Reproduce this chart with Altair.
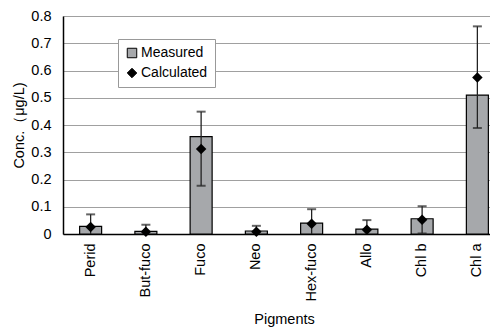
import altair as alt
import pandas as pd

pigments = ["Perid", "But-fuco", "Fuco", "Neo", "Hex-fuco", "Allo", "Chl b", "Chl a"]
measured = [0.028, 0.010, 0.357, 0.011, 0.040, 0.018, 0.056, 0.510]
calculated = [0.026, 0.008, 0.312, 0.008, 0.038, 0.016, 0.052, 0.574]
err_high = [0.072, 0.034, 0.449, 0.030, 0.091, 0.051, 0.102, 0.762]
err_low = [0.0, 0.0, 0.177, 0.0, 0.0, 0.0, 0.002, 0.389]

df = pd.DataFrame({
    "pigment": pigments,
    "measured": measured,
    "calculated": calculated,
    "hi": err_high,
    "lo": err_low,
})

FONT = "Liberation Sans"
series_dom = ["Measured", "Calculated"]

x_axis = alt.Axis(labelAngle=270, labelAlign="right", labelBaseline="middle",
                  labelFontSize=14.5, labelColor="black", labelFont=FONT, labelPadding=9,
                  titleFont=FONT, titleFontSize=14.5, titleFontWeight="normal",
                  titleColor="black", titlePadding=11, ticks=False,
                  domainColor="black", domainWidth=1.5, title="Pigments")
x_scale = alt.Scale(paddingInner=0.6, paddingOuter=0.3, range=[0, 442])
x = alt.X("pigment:N", sort=pigments, scale=x_scale, axis=x_axis)

y_scale = alt.Scale(domain=[0, 0.8], nice=False)
y_axis = alt.Axis(values=[0, 0.1, 0.2, 0.3, 0.4, 0.5, 0.6, 0.7, 0.8],
                  labelExpr="datum.value == 0 ? '0' : format(datum.value, '.1f')",
                  labelFontSize=14.5, labelColor="black", labelFont=FONT, labelPadding=12,
                  ticks=False, domainColor="black", domainWidth=1.5,
                  gridColor="#a0a0a0", gridWidth=1.2,
                  title="Conc.（μg/L)", titleFont=FONT, titleFontSize=14.5,
                  titleFontWeight="normal", titleColor="black", titlePadding=4)

def Y(field):
    return alt.Y(field, scale=y_scale, axis=y_axis)

color = alt.Color("series:N", scale=alt.Scale(domain=series_dom, range=["#a6a8ab", "black"]),
                  legend=alt.Legend(title=None, orient="none", legendX=55, legendY=23,
                                    labelFont=FONT, labelFontSize=14, labelColor="black",
                                    fillColor="white", strokeColor="#999999", padding=7,
                                    symbolStrokeColor="black", symbolStrokeWidth=1,
                                    symbolSize=90, rowPadding=6, labelOffset=2))
shape = alt.Shape("series:N", scale=alt.Scale(domain=series_dom, range=["square", "diamond"]))

base = alt.Chart(df)

bars = base.transform_calculate(series="'Measured'").mark_bar(
    stroke="black", strokeWidth=1.2, size=22
).encode(x=x, y=Y("measured:Q"), color=color)

rule = base.mark_rule(color="#222222", strokeWidth=1.3).encode(
    x=x, y=Y("lo:Q"), y2="hi:Q")
cap_hi = base.mark_tick(color="#222222", thickness=2, size=9).encode(
    x=x, y=Y("hi:Q"))
cap_lo = base.transform_filter("datum.lo > 0.001").mark_tick(color="#222222", thickness=2, size=9).encode(
    x=x, y=Y("lo:Q"))

points = base.transform_calculate(series="'Calculated'").mark_point(
    filled=True, size=110, opacity=1
).encode(x=x, y=Y("calculated:Q"), color=color, shape=shape)

chart = alt.layer(bars, rule, cap_hi, cap_lo, points).properties(
    width=427, height=218,
    autosize=alt.AutoSizeParams(type="none"),
    padding={"left": 55, "top": 8, "right": 0, "bottom": 94},
).configure_view(stroke=None).configure(background="white")

chart.save("out.html", embed_options={"renderer": "svg", "actions": False})
